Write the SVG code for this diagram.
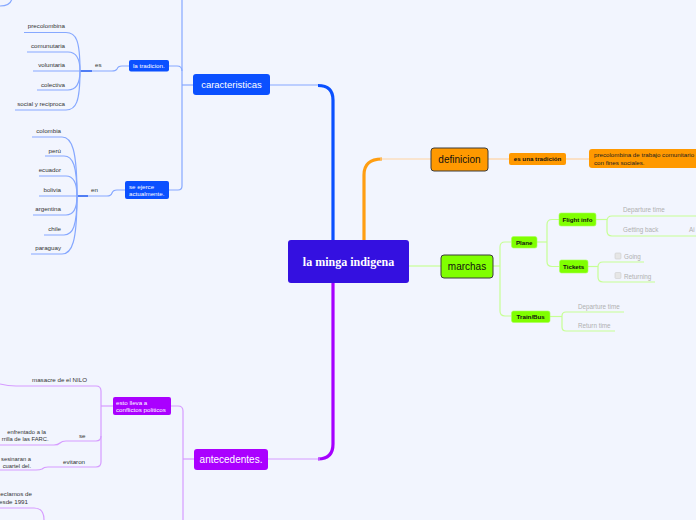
<svg xmlns="http://www.w3.org/2000/svg" width="696" height="520" viewBox="0 0 696 520">
<style>
text{font-family:"Liberation Sans",Arial,sans-serif}
.bl{fill:none;stroke:#86a8ff;stroke-width:1.2}
.bt{fill:none;stroke:#0a50ff;stroke-width:3.2}
.ol{fill:none;stroke:#ffd3a0;stroke-width:1.2}
.ot{fill:none;stroke:#ff9e12;stroke-width:3.2}
.pl{fill:none;stroke:#d69cff;stroke-width:1.2}
.pt{fill:none;stroke:#a600ff;stroke-width:3.2}
.gl{fill:none;stroke:#c6ff94;stroke-width:1.2}
.t6{font-size:6.2px;fill:#333}
.t6e{font-size:6.2px;fill:#333;text-anchor:end}
.s6e{font-size:5.8px;fill:#333;text-anchor:end}
.g6{font-size:6.3px;fill:#b0b0b0}
.w6{font-size:6.2px;fill:#fff}
.k6{font-size:6.2px;fill:#111;font-weight:bold}
.big{font-size:10px}
.cb{fill:#e6e6e6;stroke:#cfcfcf;stroke-width:0.6}
</style>
<rect x="0" y="0" width="696" height="520" fill="#f2f5fe"/>
<g id="connectors">
<path class="bl" d="M270 85 L318 85"/>
<path class="bt" d="M318 85.5 Q333 85.5 333 100 L333 240"/>
<path class="bl" d="M182 0 L182 186 Q182 190 178 190 L169 190"/>
<path class="bl" d="M193 85 L182 85"/>
<path class="bl" d="M169 66 L177 66 Q182 66 182 71"/>
<path class="bl" d="M0 6 Q11 6 12 -2"/>
<path class="bl" d="M129 66 L122 66 Q118 66 117 69 Q116 71 112 71 L92 71"/>
<path fill="none" stroke="#1a55f0" stroke-width="1.5" d="M92 71 L80 71"/>
<path class="bl" d="M24 32.5 L66 32.5 C76 32.5 80 40 80 71"/>
<path class="bl" d="M27 52 L68 52 C76 52 80 58 80 71"/>
<path class="bl" d="M33 71 L80 71"/>
<path class="bl" d="M37 90 L68 90 C76 90 80 84 80 71"/>
<path class="bl" d="M15 110 L66 110 C76 110 80 102 80 71"/>
<path class="bl" d="M125 190 L117 190 Q113 190 112 193 Q111 196 107 196 L88 196"/>
<path fill="none" stroke="#1a55f0" stroke-width="1.5" d="M88 196 L77 196"/>
<path class="bl" d="M32 137 L62 137 C72 137 77 150 77 196"/>
<path class="bl" d="M45 156 L64 156 C73 156 77 166 77 196"/>
<path class="bl" d="M39 176 L66 176 C74 176 77 184 77 196"/>
<path class="bl" d="M39 196 L77 196"/>
<path class="bl" d="M33 215 L66 215 C74 215 77 208 77 196"/>
<path class="bl" d="M44 235 L64 235 C73 235 77 226 77 196"/>
<path class="bl" d="M31 254 L62 254 C72 254 77 242 77 196"/>
<path class="ot" d="M364 240 L364 175 Q364 159 382 159"/>
<path class="ol" d="M380 159 L431 159"/>
<path class="ol" d="M488 159 L509 159"/>
<path class="ol" d="M566 159 L590 159"/>
<path class="gl" d="M409 266 L441 266"/>
<path class="gl" d="M493 266 L500 266"/>
<path class="gl" d="M511 242 L505 242 Q500 242 500 247 L500 311 Q500 316 505 316 L511 316"/>
<path class="gl" d="M537 242 L547 242"/>
<path class="gl" d="M559 219.5 L552 219.5 Q547 219.5 547 224.5 L547 261.5 Q547 266.5 552 266.5 L559 266.5"/>
<path class="gl" d="M596 219.5 L607 219.5"/>
<path class="gl" d="M696 216 L612 216 Q607 216 607 221 L607 231 Q607 236 612 236 L696 236"/>
<path class="gl" d="M588 266.5 L598 266.5"/>
<path class="gl" d="M644 262 L603 262 Q598 262 598 267 L598 277 Q598 282 603 282 L655 282"/>
<path class="gl" d="M550 316.5 L562 316.5"/>
<path class="gl" d="M624 312 L566 312 Q562 312 562 316 L562 327 Q562 331 566 331 L615 331"/>
<path class="pt" d="M333 283 L333 444 Q333 459 318 459"/>
<path class="pl" d="M320 459 L268 459"/>
<path class="pl" d="M194 459 L183 459"/>
<path class="pl" d="M171 406 L178 406 Q183 406 183 411 L183 520"/>
<path class="pl" d="M113 406 L101 406"/>
<path class="pl" d="M0 384 Q8 386 16 386 L96 386 Q101 386 101 391 L101 462 Q101 467 96 467 L48 467 Q44 467 42 469 Q40 470 36 470 L0 470"/>
<path class="pl" d="M101 436 Q101 441 96 441 L66 441 Q62 441 60 443 Q58 445 54 445 L0 445"/>
<path class="pl" d="M0 508 L34 508 Q44 508 44 520"/>
</g>
<g id="center">
<rect x="288" y="240" width="121" height="43" rx="3" fill="#3410e0"/>
<text x="348.5" y="266" text-anchor="middle" style="font-family:'Liberation Serif','Times New Roman',serif;font-weight:bold;font-size:12px;fill:#fff">la minga indigena</text>
</g>
<g id="caracteristicas">
<rect x="193" y="74" width="77" height="21" rx="3" fill="#0b50ff"/>
<text x="231.5" y="88" text-anchor="middle" class="big" style="fill:#fff;font-size:9.5px">caracteristicas</text>
</g>
<g id="la-tradicion">
<rect x="129" y="60" width="40" height="11.5" rx="2" fill="#0b50ff"/>
<text x="133" y="68" class="w6">la tradicion.</text>
</g>
<g id="es-label"><text x="95" y="67" class="t6">es</text></g>
<g id="es-children">
<text x="65" y="28" class="t6e">precolombina</text>
<text x="65" y="48" class="t6e">comunutaria</text>
<text x="65" y="67" class="t6e">voluntaria</text>
<text x="65" y="87" class="t6e">colectiva</text>
<text x="65" y="106" class="t6e">social y reciproca</text>
</g>
<g id="se-ejerce">
<rect x="125" y="181" width="44" height="18" rx="2" fill="#0b50ff"/>
<text x="129" y="189" class="w6">se ejerce</text>
<text x="129" y="196" class="w6">actualmente.</text>
</g>
<g id="en-label"><text x="91" y="192" class="t6">en</text></g>
<g id="en-children">
<text x="61" y="133" class="t6e">colombia</text>
<text x="61" y="153" class="t6e">perú</text>
<text x="61" y="172" class="t6e">ecuador</text>
<text x="61" y="192" class="t6e">bolivia</text>
<text x="61" y="211" class="t6e">argentina</text>
<text x="61" y="231" class="t6e">chile</text>
<text x="61" y="250" class="t6e">paraguay</text>
</g>
<g id="definicion">
<rect x="431" y="148" width="57" height="23" rx="3" fill="#ff9900" stroke="#3a3a3a" stroke-width="1"/>
<text x="459.5" y="163" text-anchor="middle" class="big" style="fill:#111">definicion</text>
</g>
<g id="es-una-tradicion">
<rect x="509" y="153" width="57" height="12" rx="2" fill="#ff9900"/>
<text x="537.5" y="161.2" text-anchor="middle" class="k6">es una tradición</text>
</g>
<g id="precolombina-trabajo">
<rect x="589" y="149" width="120" height="19" rx="3" fill="#ff9900"/>
<text x="594" y="157" class="t6" style="fill:#222">precolombina de trabajo comunitario</text>
<text x="594" y="164.5" class="t6" style="fill:#222">con fines sociales.</text>
</g>
<g id="marchas">
<rect x="441" y="255" width="52" height="23" rx="3" fill="#80ff00" stroke="#3a3a3a" stroke-width="1"/>
<text x="467" y="270" text-anchor="middle" class="big" style="fill:#111">marchas</text>
</g>
<g id="plane">
<rect x="511.5" y="236.5" width="25.5" height="11.5" rx="2" fill="#80ff00" stroke="#a8ff5a" stroke-width="0.6"/>
<text x="524.2" y="244.5" text-anchor="middle" class="k6">Plane</text>
</g>
<g id="flight-info">
<rect x="559" y="213" width="37" height="13" rx="2" fill="#80ff00" stroke="#a8ff5a" stroke-width="0.6"/>
<text x="577.5" y="221.7" text-anchor="middle" class="k6">Flight info</text>
</g>
<g id="flight-children">
<text x="623" y="212" class="g6">Departure time</text>
<text x="623" y="232" class="g6">Getting back</text>
<text x="689" y="232" class="g6">Ai</text>
</g>
<g id="tickets">
<rect x="559.5" y="260" width="28.5" height="13" rx="2" fill="#80ff00" stroke="#a8ff5a" stroke-width="0.6"/>
<text x="573.7" y="268.7" text-anchor="middle" class="k6">Tickets</text>
</g>
<g id="ticket-children">
<rect x="615" y="253" width="6" height="6" rx="1" class="cb"/>
<text x="624" y="259" class="g6">Going</text>
<rect x="615" y="272.5" width="6" height="6" rx="1" class="cb"/>
<text x="624" y="278.5" class="g6">Returning</text>
</g>
<g id="train-bus">
<rect x="511.5" y="311" width="38.5" height="11.5" rx="2" fill="#80ff00" stroke="#a8ff5a" stroke-width="0.6"/>
<text x="530.7" y="319" text-anchor="middle" class="k6">Train/Bus</text>
</g>
<g id="train-children">
<text x="578" y="309" class="g6">Departure time</text>
<text x="578" y="328" class="g6">Return time</text>
</g>
<g id="antecedentes">
<rect x="194" y="449" width="74" height="21" rx="3" fill="#aa00ff"/>
<text x="231" y="463" text-anchor="middle" class="big" style="fill:#fff">antecedentes.</text>
</g>
<g id="esto-lleva">
<rect x="113" y="397" width="58" height="18" rx="2" fill="#aa00ff"/>
<text x="116" y="405" class="w6">esto lleva a</text>
<text x="116" y="412" class="w6">conflictos politicos</text>
</g>
<g id="masacre"><text x="32" y="382" class="t6">masacre de el NILO</text></g>
<g id="se-label"><text x="79" y="438" class="t6">se</text></g>
<g id="enfrentado">
<text x="46" y="434" class="s6e">enfrentado a la</text>
<text x="48.5" y="441" class="s6e">rrilla de las FARC.</text>
</g>
<g id="evitaron"><text x="63" y="464" class="t6">evitaron</text></g>
<g id="asesinaran">
<text x="31" y="461" class="s6e">sesinaran a</text>
<text x="31" y="467.5" class="s6e">cuartel del.</text>
</g>
<g id="reclamos">
<text x="32" y="496" class="t6e">eclamos de</text>
<text x="28" y="504" class="t6e">esde 1991</text>
</g>
</svg>
